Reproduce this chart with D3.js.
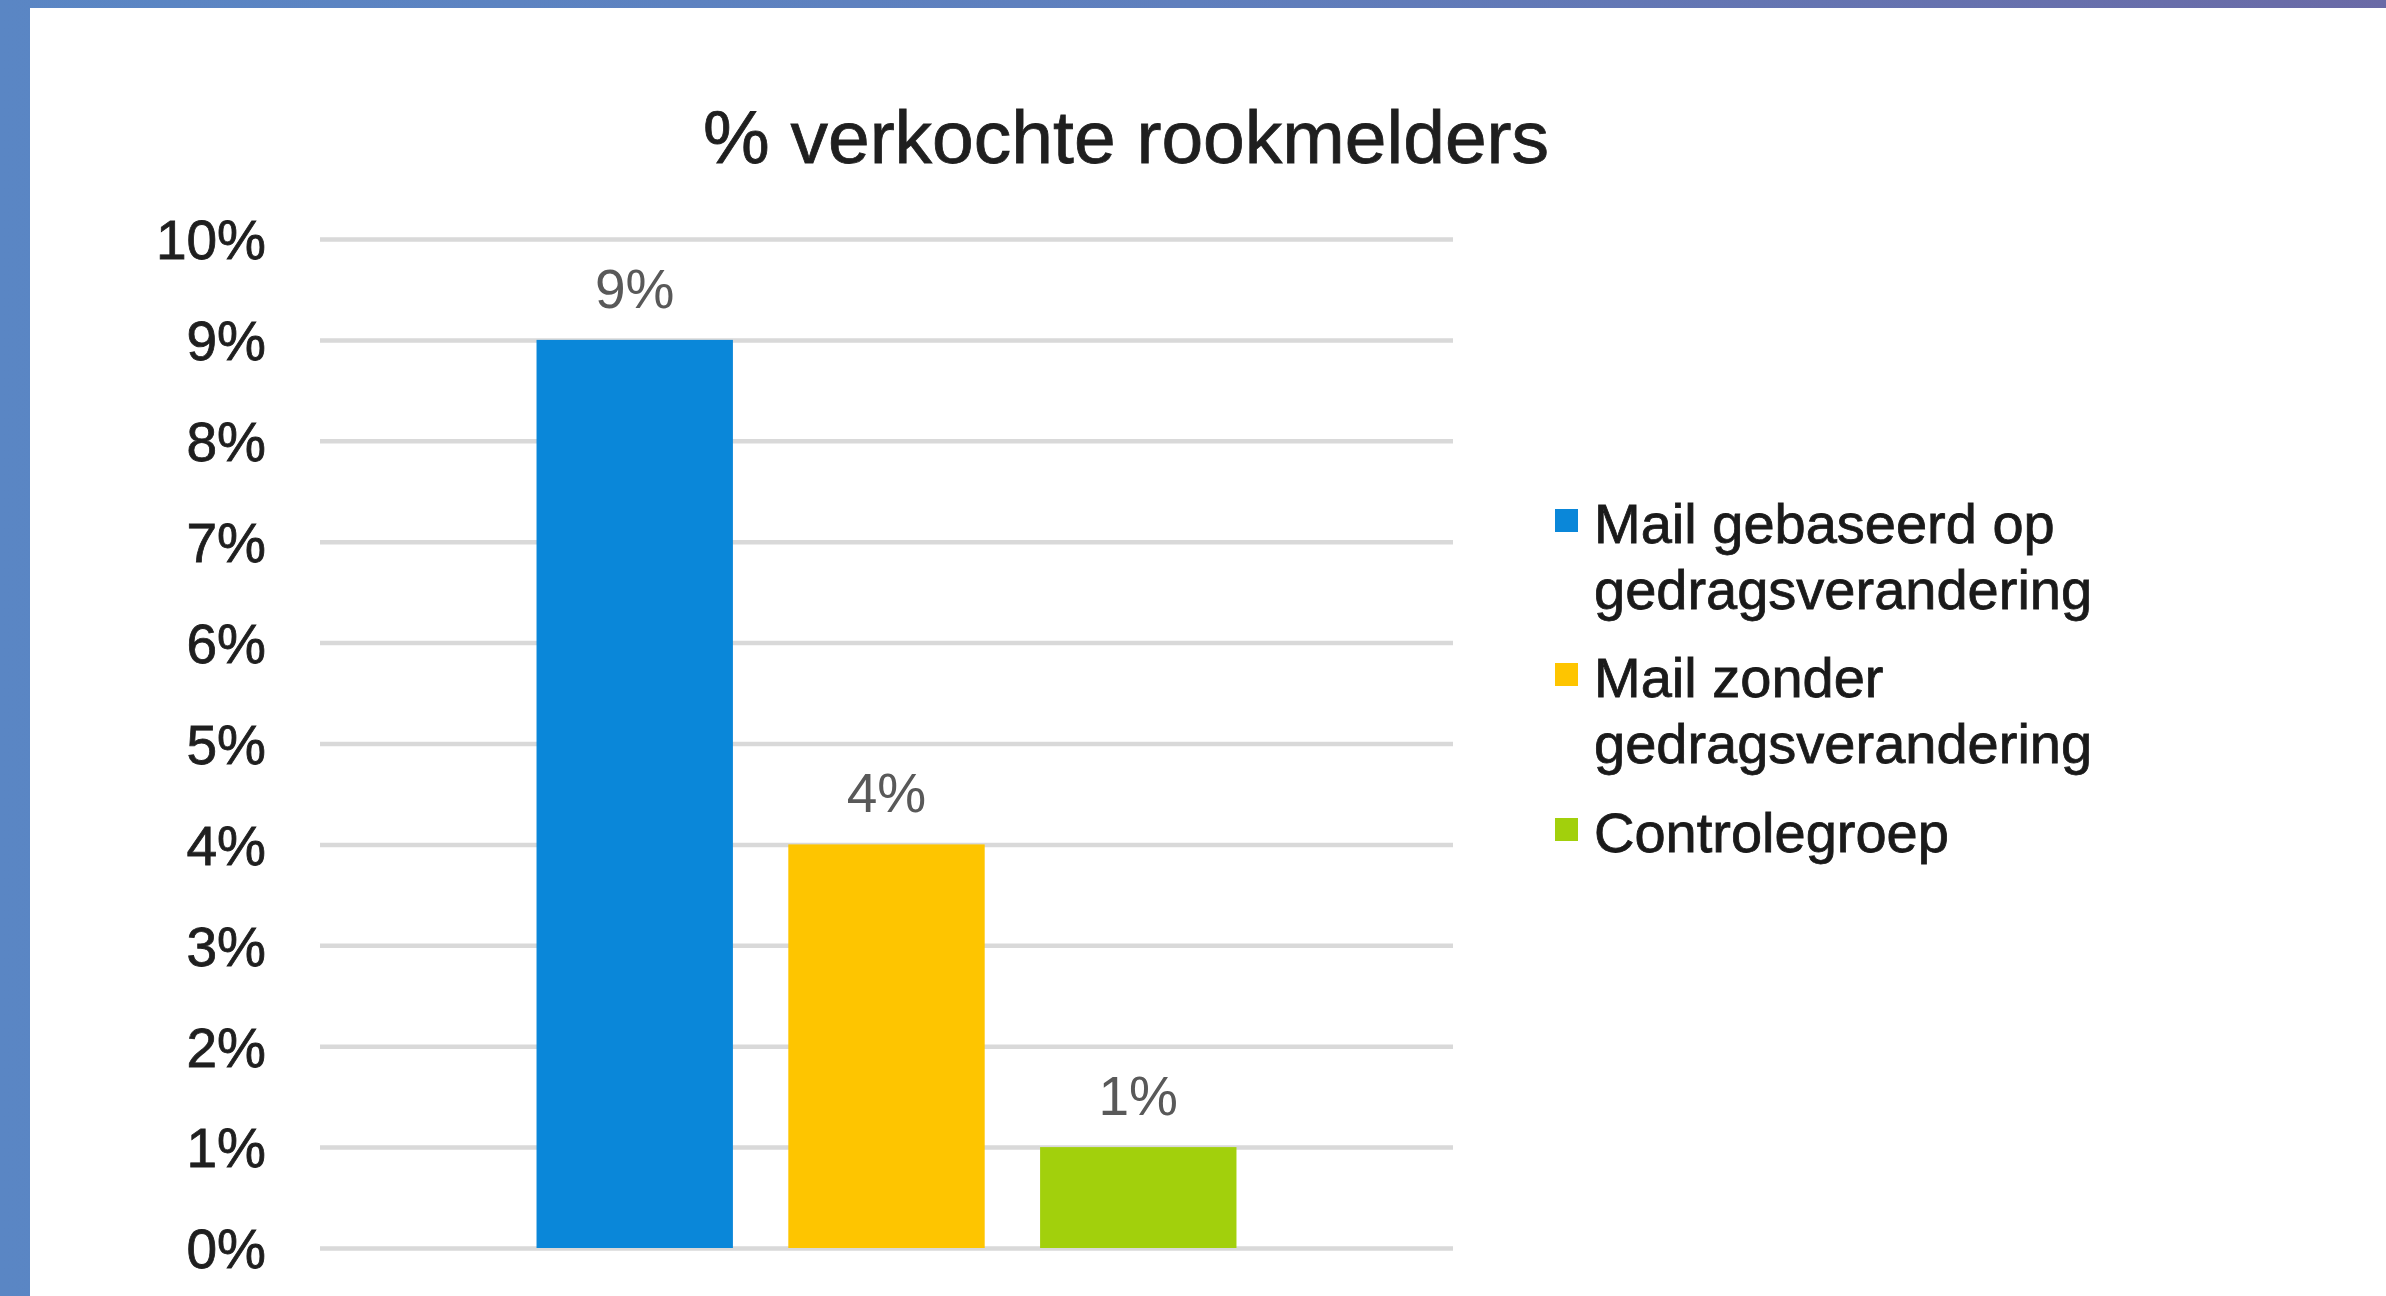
<!DOCTYPE html>
<html>
<head>
<meta charset="utf-8">
<script src="https://cdn.jsdelivr.net/npm/d3@7"></script>
<style>
  html, body { margin: 0; padding: 0; background: #5b7fbf; }
  svg { display: block; }
  text { font-family: "Liberation Sans", Arial, sans-serif; }
</style>
</head>
<body>
<div id="chart"></div>
<script>
// chart data
const series = ["Mail gebaseerd op gedragsverandering", "Mail zonder gedragsverandering", "Controlegroep"];
const legendLines = [["Mail gebaseerd op", "gedragsverandering"], ["Mail zonder", "gedragsverandering"], ["Controlegroep"]];
const values = [0.09, 0.04, 0.01];
const colors = ["#0a87d9", "#fec500", "#a2d00c"];
const yTicks = [0, 0.01, 0.02, 0.03, 0.04, 0.05, 0.06, 0.07, 0.08, 0.09, 0.10];
const title = "% verkochte rookmelders";

const W = 2386, H = 1296;
const plot = { left: 320, right: 1453, top: 239, bottom: 1248 };

const svg = d3.select("#chart").append("svg")
    .attr("width", W)
    .attr("height", H);

// slide background
const defs = svg.append("defs");
const grad = defs.append("linearGradient").attr("id", "bg").attr("x1", 0).attr("x2", 1).attr("y1", 0).attr("y2", 0);
grad.append("stop").attr("offset", "0%").attr("stop-color", "#5a86c4");
grad.append("stop").attr("offset", "50%").attr("stop-color", "#5f7fbd");
grad.append("stop").attr("offset", "100%").attr("stop-color", "#6a6aa6");
svg.append("rect").attr("width", W).attr("height", H).attr("fill", "url(#bg)");
svg.append("rect").attr("x", 30).attr("y", 8).attr("width", W - 30).attr("height", H - 8).attr("fill", "#ffffff");

// scales
const y = d3.scaleLinear().domain([0, 0.10]).range([plot.bottom, plot.top]);
const x = d3.scaleBand().domain(series).range([plot.left, plot.right])
    .paddingInner(0.22).paddingOuter(0.86);

// gridlines + y axis labels
const yAxis = d3.axisLeft(y)
    .tickValues(yTicks)
    .tickFormat(d3.format(".0%"))
    .tickSize(-(plot.right - plot.left))
    .tickPadding(54);

const gy = svg.append("g")
    .attr("transform", `translate(${plot.left},0)`)
    .call(yAxis);
gy.select(".domain").remove();
gy.selectAll(".tick line").attr("stroke", "#d9d9d9").attr("stroke-width", 4.5);
gy.selectAll(".tick text")
    .attr("fill", "#1f1f1f")
    .attr("stroke", "#1f1f1f")
    .attr("stroke-width", 0.8)
    .style("font-size", "55px")
    .attr("dy", "0.36em");

// bars
svg.selectAll("rect.bar")
    .data(values)
    .join("rect")
    .attr("class", "bar")
    .attr("x", (d, i) => x(series[i]))
    .attr("y", d => y(d))
    .attr("width", x.bandwidth())
    .attr("height", d => y(0) - y(d))
    .attr("fill", (d, i) => colors[i]);

// data labels
svg.selectAll("text.label")
    .data(values)
    .join("text")
    .attr("class", "label")
    .attr("x", (d, i) => x(series[i]) + x.bandwidth() / 2)
    .attr("y", d => y(d) - 32)
    .attr("text-anchor", "middle")
    .attr("fill", "#595959")
    .style("font-size", "55px")
    .text(d => d3.format(".0%")(d));

// title
svg.append("text")
    .attr("x", 1126)
    .attr("y", 163)
    .attr("text-anchor", "middle")
    .attr("fill", "#1f1f1f")
    .attr("stroke", "#1f1f1f")
    .attr("stroke-width", 0.8)
    .style("font-size", "75px")
    .text(title);

// legend
const legendTop = [543, 697, 852];
const legend = svg.selectAll("g.legend")
    .data(series)
    .join("g")
    .attr("class", "legend")
    .attr("transform", (d, i) => `translate(1555,${legendTop[i]})`);

legend.append("rect")
    .attr("x", 0)
    .attr("y", -34)
    .attr("width", 23)
    .attr("height", 23)
    .attr("fill", (d, i) => colors[i]);

legend.each(function (d, i) {
    const t = d3.select(this).append("text")
        .attr("x", 39)
        .attr("y", 0)
        .attr("fill", "#1a1a1a")
        .attr("stroke", "#1a1a1a")
        .attr("stroke-width", 0.8)
        .style("font-size", "56px");
    legendLines[i].forEach((line, j) => {
        t.append("tspan").attr("x", 39).attr("dy", j === 0 ? 0 : 66).text(line);
    });
});
</script>
</body>
</html>
